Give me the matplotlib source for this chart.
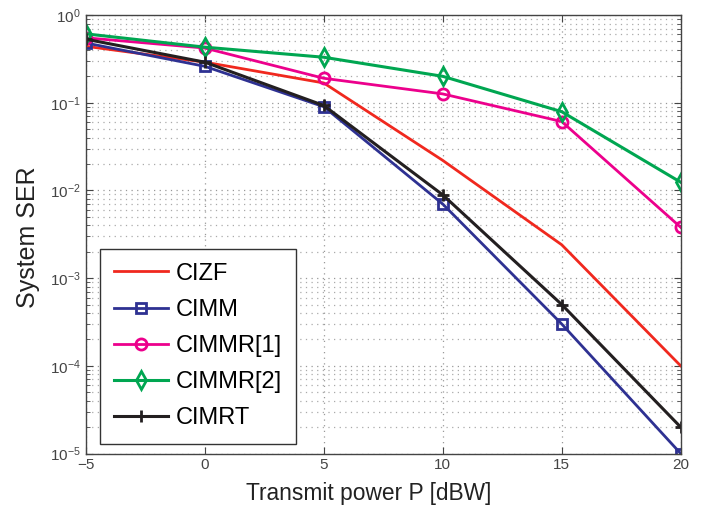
import matplotlib.pyplot as plt
from matplotlib.ticker import LogLocator, NullFormatter

plt.rcParams['font.family'] = ['Liberation Sans', 'DejaVu Sans']

# ------------------------------------------------------------
# data
# ------------------------------------------------------------
power_dbw = [-5, 0, 5, 10, 15, 20]

ser_cizf = [0.44, 0.29, 0.168, 0.022, 0.0024, 1.0e-4]
ser_cimm = [0.48, 0.26, 0.090, 0.0070, 3.0e-4, 1.0e-5]
ser_cimmr1 = [0.55, 0.42, 0.19, 0.126, 0.061, 0.0038]
ser_cimmr2 = [0.61, 0.43, 0.33, 0.20, 0.079, 0.0124]
ser_cimrt = [0.53, 0.29, 0.093, 0.0089, 5.0e-4, 2.0e-5]

labels = ["CIZF", "CIMM", "CIMMR[1]", "CIMMR[2]", "CIMRT"]

# ------------------------------------------------------------
# plot
# ------------------------------------------------------------
fig = plt.figure(figsize=(7.15, 5.09), dpi=100)
ax = fig.add_axes([0.120, 0.109, 0.832, 0.8615])

ax.semilogy(power_dbw, ser_cizf, color='#f0281e', lw=2, label=labels[0])
ax.semilogy(power_dbw, ser_cimm, color='#2e3192', lw=2, marker='s', ms=7,
            mfc='none', mew=2, label=labels[1])
ax.semilogy(power_dbw, ser_cimmr1, color='#ec008c', lw=2, marker='o', ms=8,
            mfc='none', mew=2, label=labels[2])
ax.semilogy(power_dbw, ser_cimmr2, color='#00a651', lw=2.2, marker='d', ms=9,
            mfc='none', mew=2, label=labels[3])
ax.semilogy(power_dbw, ser_cimrt, color='#231f20', lw=2.2, marker='+', ms=8,
            mew=2, label=labels[4])

ax.set_xlim(-5, 20)
ax.set_ylim(1e-5, 1)
ax.set_xticks(power_dbw)
ax.yaxis.set_major_locator(LogLocator(base=10, numticks=10))
ax.yaxis.set_minor_locator(LogLocator(base=10, subs=range(2, 10), numticks=20))
ax.yaxis.set_minor_formatter(NullFormatter())

ax.grid(which='major', ls=(0, (1, 3.5)), color='#999999', lw=0.9)
ax.grid(which='minor', axis='y', ls=(0, (1, 3.5)), color='#aaaaaa', lw=0.9)
ax.tick_params(which='both', direction='in', top=True, right=True,
               labelsize=11, colors='#444444')
ax.tick_params(which='major', length=5)
ax.tick_params(which='minor', length=3)
for sp in ax.spines.values():
    sp.set_color('#444444')
    sp.set_linewidth(1)

ax.set_xlabel("Transmit power P [dBW]", fontsize=16.4, color='#222222')
ax.xaxis.set_label_coords(0.476, -0.064)
ax.set_ylabel("System SER", fontsize=18, color='#222222')
ax.yaxis.set_label_coords(-0.077, 0.494)

leg = ax.legend(loc='lower left', bbox_to_anchor=(0.0235, 0.0228),
                borderaxespad=0, fontsize=17, fancybox=False,
                edgecolor='#333333', framealpha=1, handlelength=2.3,
                handletextpad=0.3, labelspacing=0.6, borderpad=0.6)
leg.get_frame().set_linewidth(1)

fig.savefig("out.png", dpi=100)
